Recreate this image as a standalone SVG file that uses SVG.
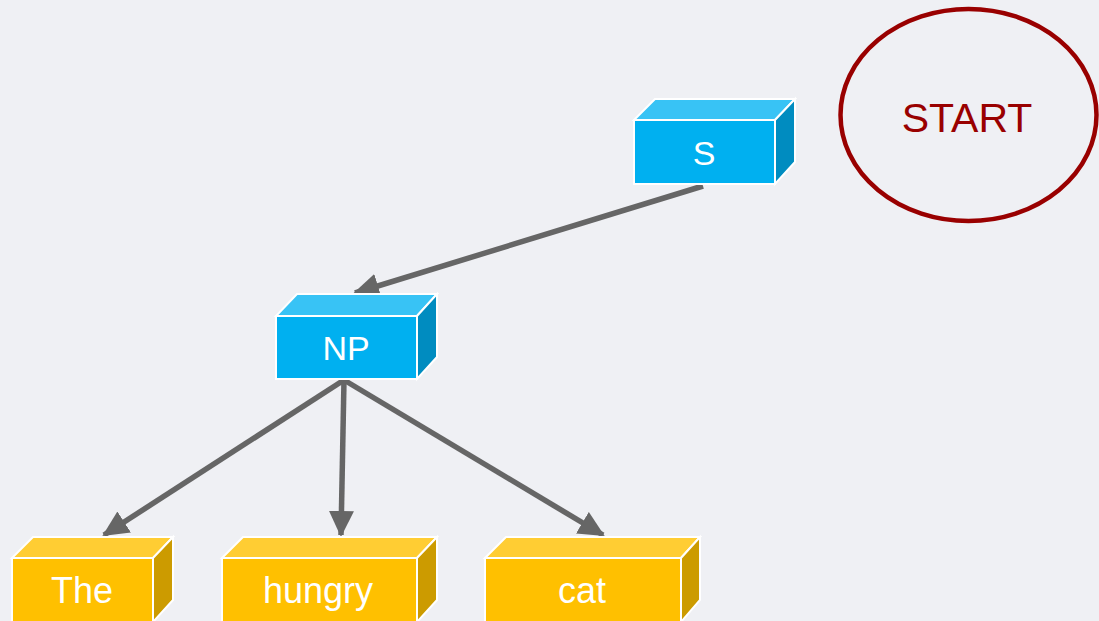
<svg xmlns="http://www.w3.org/2000/svg" width="1099" height="621" viewBox="0 0 1099 621">
<style>
.fb{fill:#00b0f0;stroke:#fff;stroke-width:2}
.tb{fill:#38c3f5;stroke:#fff;stroke-width:2}
.rb{fill:#008cc0;stroke:#fff;stroke-width:2}
.fy{fill:#ffc000;stroke:#fff;stroke-width:2}
.ty{fill:#ffcd33;stroke:#fff;stroke-width:2}
.ry{fill:#cc9b00;stroke:#fff;stroke-width:2}
.lbl{font-family:"Liberation Sans",Arial,sans-serif;fill:#fff;text-anchor:middle}
.edge{stroke:#666;stroke-width:5.5;fill:none;marker-end:url(#ah)}
</style>
<defs>
<marker id="ah" markerUnits="userSpaceOnUse" markerWidth="30" markerHeight="30" refX="24" refY="12.5" orient="auto">
<path d="M0,0 L26,12.5 L0,25 Z" fill="#666"/>
</marker>
</defs>
<rect width="1099" height="621" fill="#eff0f4"/>
<g id="connectors">
<line class="edge" x1="703" y1="186" x2="355" y2="293"/>
<line class="edge" x1="344" y1="380" x2="104" y2="535"/>
<line class="edge" x1="344" y1="380" x2="341" y2="535"/>
<line class="edge" x1="344" y1="380" x2="603" y2="535"/>
</g>
<g id="node-S">
<polygon class="tb" points="634,120 655,99 795,99 775,120"/>
<polygon class="rb" points="775,120 795,99 795,162 775,184"/>
<rect class="fb" x="634" y="120" width="141" height="64"/>
<text class="lbl" x="704" y="165" font-size="34">S</text>
</g>
<g id="node-NP">
<polygon class="tb" points="276,316 297,294 437,294 417,316"/>
<polygon class="rb" points="417,316 437,294 437,357 417,379"/>
<rect class="fb" x="276" y="316" width="141" height="63"/>
<text class="lbl" x="346" y="360" font-size="34">NP</text>
</g>
<g id="node-The">
<polygon class="ty" points="12,558 33,537 173,537 153,558"/>
<polygon class="ry" points="153,558 173,537 173,600 153,622"/>
<rect class="fy" x="12" y="558" width="141" height="66"/>
<text class="lbl" x="82" y="603" font-size="36">The</text>
</g>
<g id="node-hungry">
<polygon class="ty" points="222,558 243,537 437,537 417,558"/>
<polygon class="ry" points="417,558 437,537 437,600 417,622"/>
<rect class="fy" x="222" y="558" width="195" height="66"/>
<text class="lbl" x="318" y="603" font-size="36">hungry</text>
</g>
<g id="node-cat">
<polygon class="ty" points="485,558 506,537 700,537 681,558"/>
<polygon class="ry" points="681,558 700,537 700,600 681,622"/>
<rect class="fy" x="485" y="558" width="196" height="66"/>
<text class="lbl" x="582" y="603" font-size="36">cat</text>
</g>
<g id="node-START">
<ellipse cx="968.5" cy="115" rx="128" ry="106" fill="none" stroke="#990000" stroke-width="4.5"/>
<text x="967" y="132" font-size="41" font-family="'Liberation Sans',Arial,sans-serif" fill="#990000" text-anchor="middle">START</text>
</g>
</svg>
